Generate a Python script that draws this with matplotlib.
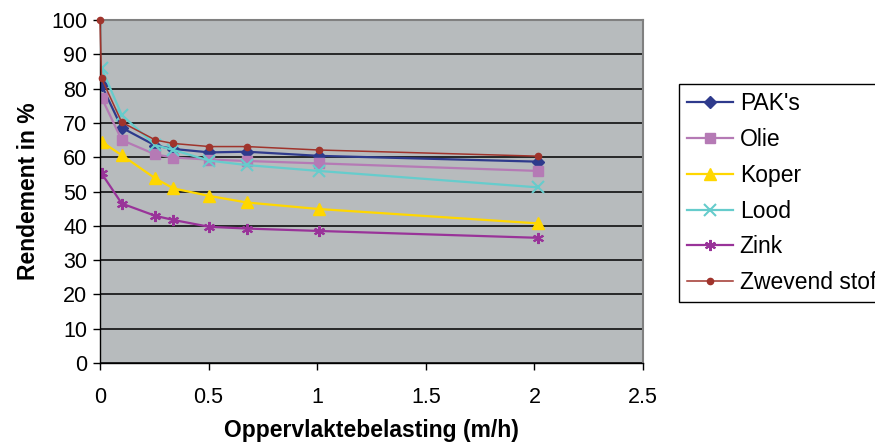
import matplotlib.pyplot as plt
import numpy as np

plt.rcParams['font.family'] = ['Liberation Sans', 'DejaVu Sans']

# oppervlaktebelasting (m/h)
x = [0.007, 0.1, 0.255, 0.338, 0.504, 0.676, 1.006, 2.017]
x_stof = [0.0] + x

# rendement in %
pak = [81, 68.6, 63.4, 62.4, 61.4, 61.6, 60.4, 58.7]
olie = [77.4, 65, 60.8, 59.9, 59.3, 58.9, 58.2, 56]
koper = [64.5, 60.6, 53.8, 50.9, 48.7, 46.8, 44.9, 40.7]
lood = [86, 72.3, 63.5, 62.1, 59, 57.7, 56, 51.2]
zink = [55.3, 46.5, 42.9, 41.7, 39.7, 39.2, 38.5, 36.5]
stof = [100, 83, 70.2, 65, 64, 63.1, 63.1, 62.1, 60.3]

fig = plt.figure(figsize=(8.75, 4.45), dpi=100)
ax = fig.add_axes([100/875, 82/445, 543/875, 343/445])
ax.set_facecolor('#B7BBBD')

ax.plot(x, pak, color='#2E3A8C', lw=1.6, marker='D', ms=6, label="PAK's")
ax.plot(x, olie, color='#B57AB5', lw=1.6, marker='s', ms=7, label='Olie')
ax.plot(x, koper, color='#FFD700', lw=1.6, marker='^', ms=8, label='Koper')
ax.plot(x, lood, color='#66CCCC', lw=1.6, marker='x', ms=8, mew=1.5, label='Lood')
ax.plot(x, zink, color='#993399', lw=1.6, marker=(6, 2, 0), ms=8, mew=1.5, label='Zink')
ax.plot(x_stof, stof, color='#A0342C', lw=1.1, marker='o', ms=4.5,
        clip_on=False, zorder=5, label='Zwevend stof')

ax.set_xlim(0, 2.5)
ax.set_ylim(0, 100)
ax.set_xticks(np.arange(0, 2.51, 0.5))
ax.set_xticklabels(['0', '0.5', '1', '1.5', '2', '2.5'])
ax.set_yticks(np.arange(0, 101, 10))
ax.yaxis.grid(True, color='black', lw=1.1)
ax.set_axisbelow(True)

for s in ['top', 'right']:
    ax.spines[s].set_color('#808080')
    ax.spines[s].set_linewidth(1.5)
for s in ['left', 'bottom']:
    ax.spines[s].set_color('black')
    ax.spines[s].set_linewidth(1.0)

ax.tick_params(direction='out', length=5, width=1, labelsize=15.5, pad=4)
ax.tick_params(axis='x', pad=12)

ax.set_xlabel('Oppervlaktebelasting (m/h)', fontsize=16.5, fontweight='bold', labelpad=8)
ax.set_ylabel('Rendement in %', fontsize=16.5, fontweight='bold', labelpad=8)

leg = ax.legend(loc='upper left', bbox_to_anchor=(679/875, 1 - 84/445),
                bbox_transform=fig.transFigure, fontsize=16.5, frameon=True,
                fancybox=False, edgecolor='black', framealpha=1,
                handlelength=2.0, handletextpad=0.3, labelspacing=0.56,
                borderpad=0.35, borderaxespad=0)
leg.get_frame().set_linewidth(1.0)

plt.savefig('out.png', dpi=100)
